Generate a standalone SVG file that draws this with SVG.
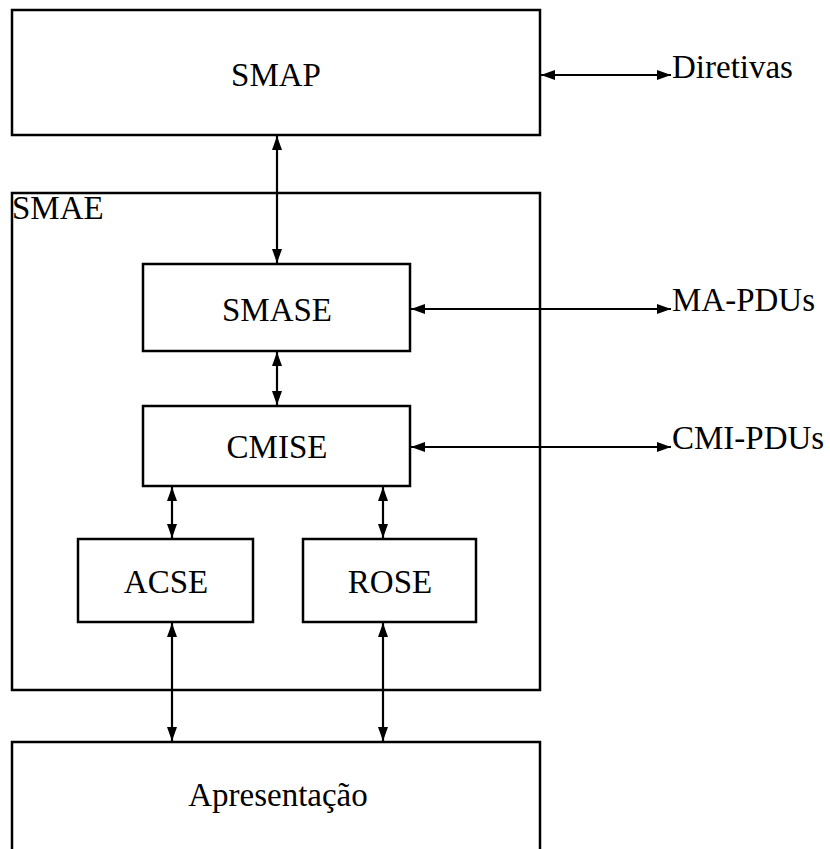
<svg xmlns="http://www.w3.org/2000/svg" width="830" height="849" viewBox="0 0 830 849">
<style>
.box{fill:none;stroke:#000;stroke-width:2.5}
.lbl{font-family:"Liberation Serif","Times New Roman",serif;font-size:33px;fill:#000}
.c{text-anchor:middle}
.conn line{stroke:#000;stroke-width:2.2;marker-start:url(#ah);marker-end:url(#ah)}
</style>
<defs>
<marker id="ah" markerUnits="userSpaceOnUse" markerWidth="15" markerHeight="12" refX="14" refY="5" orient="auto-start-reverse" viewBox="0 0 15 10">
<path d="M0,0 L14,5 L0,10 Z" fill="#000"/>
</marker>
</defs>
<rect width="830" height="849" fill="#fff"/>
<g id="smae">
<rect class="box" x="12" y="193" width="528" height="497"/>
<text class="lbl" x="12" y="219">SMAE</text>
</g>
<g id="smap">
<rect class="box" x="12" y="10" width="528" height="125"/>
<text class="lbl c" x="276" y="86">SMAP</text>
</g>
<g id="smase">
<rect class="box" x="143" y="264" width="267" height="87"/>
<text class="lbl c" x="277" y="321">SMASE</text>
</g>
<g id="cmise">
<rect class="box" x="143" y="406" width="267" height="80"/>
<text class="lbl c" x="277" y="458">CMISE</text>
</g>
<g id="acse">
<rect class="box" x="78" y="539" width="175" height="83"/>
<text class="lbl c" x="166" y="593">ACSE</text>
</g>
<g id="rose">
<rect class="box" x="303" y="539" width="173" height="83"/>
<text class="lbl c" x="390" y="593">ROSE</text>
</g>
<g id="apresentacao">
<rect class="box" x="12" y="742" width="528" height="120"/>
<text class="lbl c" x="278" y="806">Apresentação</text>
</g>
<g id="diretivas"><text class="lbl" x="672" y="78">Diretivas</text></g>
<g id="ma-pdus"><text class="lbl" x="672" y="311">MA-PDUs</text></g>
<g id="cmi-pdus"><text class="lbl" x="672" y="449">CMI-PDUs</text></g>
<g id="connectors" class="conn">
<line x1="541" y1="75" x2="671" y2="75"/>
<line x1="277" y1="136" x2="277" y2="263"/>
<line x1="411" y1="309" x2="671" y2="309"/>
<line x1="277" y1="352" x2="277" y2="405"/>
<line x1="411" y1="447" x2="671" y2="447"/>
<line x1="172" y1="487" x2="172" y2="538"/>
<line x1="383" y1="487" x2="383" y2="538"/>
<line x1="172" y1="623" x2="172" y2="741"/>
<line x1="383" y1="623" x2="383" y2="741"/>
</g>
</svg>
